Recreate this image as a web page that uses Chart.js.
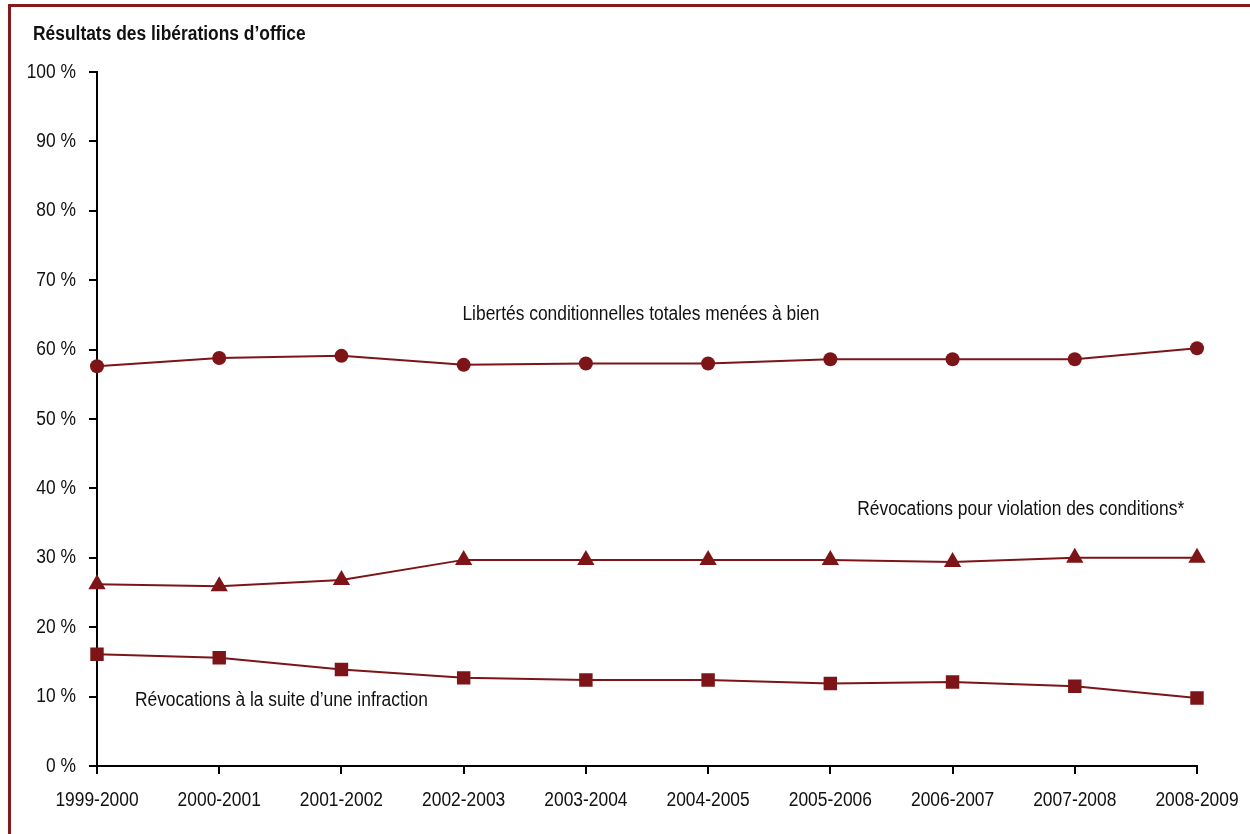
<!DOCTYPE html>
<html>
<head>
<meta charset="utf-8">
<script src="https://cdn.jsdelivr.net/npm/chart.js@4.4.1/dist/chart.umd.min.js"></script>
<style>
    html, body { margin: 0; padding: 0; background: #fff; }
    #wrap { position: relative; width: 1250px; height: 834px; overflow: hidden; }
    #frame {
        position: absolute; left: 8px; top: 4px; width: 1400px; height: 1000px;
        border-left: 3px solid #86191c; border-top: 3px solid #86191c;
    }
    #chart { position: absolute; left: 0; top: 0; }
</style>
</head>
<body>
<div id="wrap">
    <div id="frame"></div>
    <canvas id="chart" width="1250" height="834"></canvas>
</div>
<script>
const years = ["1999-2000", "2000-2001", "2001-2002", "2002-2003", "2003-2004",
               "2004-2005", "2005-2006", "2006-2007", "2007-2008", "2008-2009"];

// Libertés conditionnelles totales menées à bien
const completed = [57.6, 58.8, 59.1, 57.8, 58.0, 58.0, 58.6, 58.6, 58.6, 60.2];
// Révocations pour violation des conditions*
const breachRevoked = [26.2, 25.9, 26.8, 29.7, 29.7, 29.7, 29.7, 29.4, 30.0, 30.0];
// Révocations à la suite d'une infraction
const offenceRevoked = [16.1, 15.6, 13.9, 12.7, 12.4, 12.4, 11.9, 12.1, 11.5, 9.8];

const yTicks = [0, 10, 20, 30, 40, 50, 60, 70, 80, 90, 100];

const RED = '#7d1518';
const FONT = '"Liberation Sans", Arial, sans-serif';
const NARROW = 0.87; // the original uses a narrow face, squeeze a regular one

// series labels, anchored at a category index and a value (left edge of the text)
const seriesLabels = [
    { text: "Libertés conditionnelles totales menées à bien", at: 2.99, value: 65.0 },
    { text: "Révocations pour violation des conditions*", at: 6.22, value: 37.0 },
    { text: "Révocations à la suite d\u2019une infraction", at: 0.31, value: 9.5 }
];

function narrowText(ctx, text, x, y, align) {
    ctx.save();
    ctx.translate(x, y);
    ctx.scale(NARROW, 1);
    ctx.textAlign = align;
    ctx.fillText(text, 0, 0);
    ctx.restore();
}

const textPlugin = {
    id: 'textPlugin',
    afterDraw(chart) {
        const ctx = chart.ctx;
        const x = chart.scales.x;
        const y = chart.scales.y;
        const step = x.getPixelForValue(1) - x.getPixelForValue(0);
        ctx.save();
        ctx.fillStyle = '#111';
        ctx.textBaseline = 'middle';

        ctx.font = 'bold 20px ' + FONT;
        narrowText(ctx, "Résultats des libérations d\u2019office", 33, 34, 'left');

        ctx.font = '20px ' + FONT;
        // y tick labels
        y.ticks.forEach((t, i) => {
            narrowText(ctx, t.value + ' %', y.right - 21, y.getPixelForTick(i), 'right');
        });
        // x tick labels
        x.ticks.forEach((t, i) => {
            narrowText(ctx, years[t.value], x.getPixelForTick(i), x.top + 34, 'center');
        });
        // series labels
        seriesLabels.forEach(l => {
            const px = x.getPixelForValue(0) + l.at * step;
            narrowText(ctx, l.text, px, y.getPixelForValue(l.value), 'left');
        });
        ctx.restore();
    }
};

function series(label, data, style, radius) {
    return {
        label: label,
        data: data,
        borderColor: RED,
        backgroundColor: RED,
        borderWidth: 2,
        tension: 0,
        pointStyle: style,
        pointRadius: radius,
        pointBorderWidth: 0,
        pointBackgroundColor: RED
    };
}

new Chart(document.getElementById('chart'), {
    type: 'line',
    data: {
        labels: years,
        datasets: [
            series("Libertés conditionnelles totales menées à bien", completed, 'circle', 7),
            series("Révocations pour violation des conditions*", breachRevoked, 'triangle', 10),
            series("Révocations à la suite d\u2019une infraction", offenceRevoked, 'rect', 9.5)
        ]
    },
    options: {
        responsive: false,
        animation: false,
        layout: { padding: { left: 0, top: 72, right: 53, bottom: 0 } },
        plugins: {
            legend: { display: false },
            tooltip: { enabled: false }
        },
        scales: {
            y: {
                min: 0,
                max: 100,
                afterFit(scale) { scale.width = 97; },
                afterBuildTicks(scale) { scale.ticks = yTicks.map(v => ({ value: v })); },
                border: { display: true, color: '#000', width: 2 },
                grid: { drawOnChartArea: false, drawTicks: true, tickLength: 8, color: '#000', lineWidth: 2 },
                ticks: { color: 'rgba(0,0,0,0)', font: { size: 8 } }
            },
            x: {
                offset: false,
                afterFit(scale) { scale.height = 68; },
                border: { display: true, color: '#000', width: 2 },
                grid: { drawOnChartArea: false, drawTicks: true, tickLength: 8, color: '#000', lineWidth: 2 },
                ticks: { color: 'rgba(0,0,0,0)', maxRotation: 0, autoSkip: false, font: { size: 8 } }
            }
        }
    },
    plugins: [textPlugin]
});
</script>
</body>
</html>
